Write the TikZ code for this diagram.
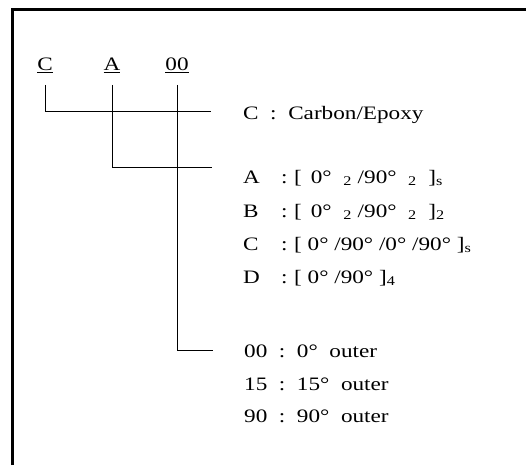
\documentclass[tikz,border=0pt]{standalone}
\usepackage{fontspec}
\setmainfont[FakeStretch=1.22]{Liberation Serif}
\begin{document}
\begin{tikzpicture}[x=1pt,y=-1pt,
  txt/.style={anchor=base west, inner sep=0pt, font=\fontsize{19}{22}\selectfont},
  lbl/.style={anchor=base, inner sep=0pt, font=\fontsize{19}{22}\selectfont},
  conn/.style={line width=1pt},
  frame/.style={line width=3pt}]
\useasboundingbox (0,0) rectangle (526,465);
% frame (top and left edges only)
\draw[frame] (12.5,465) -- (12.5,10) -- (526,10);
% code labels
\node[lbl] (labC) at (45,71) {\underline{C}};
\node[lbl] (labA) at (112,71) {\underline{A}};
\node[lbl] (lab00) at (177,71) {\underline{00}};
% explanations
\node[txt] (txtC) at (243,120) {C\ \ :\ \ Carbon/Epoxy};
\node[txt] (rA) at (243,183) {A};
\node[txt] (rB) at (243,217) {B};
\node[txt] (rC) at (243,250) {C};
\node[txt] (rD) at (243,283) {D};
\node[txt] (kA) at (281,183) {:};
\node[txt] (kB) at (281,217) {:};
\node[txt] (kC) at (281,250) {:};
\node[txt] (kD) at (281,283) {:};
\node[txt] (vA) at (294,183) {[\ \,0°\ \ \textsubscript{2}\ /90°\ \ \textsubscript{2}\ \ ]\textsubscript{s}};
\node[txt] (vB) at (294,217) {[\ \,0°\ \ \textsubscript{2}\ /90°\ \ \textsubscript{2}\ \ ]\textsubscript{2}};
\node[txt] (vC) at (294,250) {[\ 0°\ /90°\ /0°\ /90°\ ]\textsubscript{s}};
\node[txt] (vD) at (294,283) {[\ 0°\ /90°\ ]\textsubscript{4}};
\node[txt] (t00) at (244,357) {00\ \ :\ \ 0°\ \ outer};
\node[txt] (t15) at (244,390) {15\ \ :\ \ 15°\ \ outer};
\node[txt] (t90) at (244,422) {90\ \ :\ \ 90°\ \ outer};
% connector end points
\coordinate (eC) at (211,112);
\coordinate (eA) at (212,167);
\coordinate (e00) at (213,350);
% connectors
\draw[conn] (labC.south |- 0,85) |- (eC);
\draw[conn] (labA.south |- 0,85) |- (eA);
\draw[conn] (lab00.south |- 0,85) |- (e00);
\end{tikzpicture}
\end{document}
